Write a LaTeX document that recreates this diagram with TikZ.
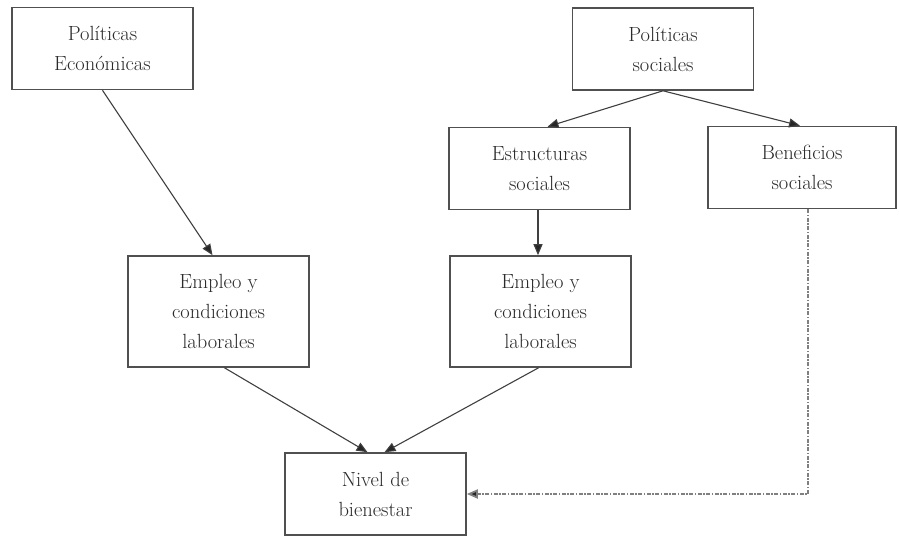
\documentclass[tikz,border=0pt]{standalone}
\usepackage{amsmath,amssymb}
\usepackage{tikz}
\usetikzlibrary{arrows.meta}

\definecolor{borde}{HTML}{505050}
\definecolor{texto}{HTML}{2A2A2A}

\begin{document}
\begin{tikzpicture}[x=1pt,y=-1pt,
    caja/.style={rectangle, draw=borde, line width=1.6pt, fill=white,
      text=texto, align=center, minimum width=181pt, minimum height=82pt,
      inner sep=0pt, font=\fontsize{20.5}{30}\selectfont},
    flecha/.style={draw=black!75, line width=1.1pt,
      -{Triangle[length=11pt,width=9pt,fill=black!85]}},
    punteada/.style={flecha, draw=black!50, line width=1.8pt,
      dash pattern=on 4pt off 1.5pt on 1.5pt off 1.5pt}]
  \useasboundingbox (0,0) rectangle (899,537);
  \node [caja] (polecon) at (102.5,48.5) {Políticas\\Económicas};
  \node [caja] (polsoc) at (663,49) {Políticas\\sociales};
  \node [caja] (estruct) at (539.5,168.5) {Estructuras\\sociales};
  \node [caja, minimum width=188pt] (benef) at (802,167.5) {Beneficios\\sociales};
  \node [caja, minimum height=111pt] (empleoA) at (218.5,311.5)
    {Empleo y\\condiciones\\laborales};
  \node [caja, minimum height=111pt] (empleoB) at (540.5,311.5)
    {Empleo y\\condiciones\\laborales};
  \node [caja] (nivel) at (375.5,494) {Nivel de\\bienestar};
  % flechas
  \draw [flecha] (polecon.south) -- ([xshift=-6pt]empleoA.north);
  \draw [flecha] (polsoc.south) -- ([xshift=8pt]estruct.north);
  \draw [flecha] (polsoc.south) -- ([xshift=-2pt]benef.north);
  \draw [flecha] ([xshift=-1.5pt]estruct.south) -- ([xshift=-2.5pt]empleoB.north);
  \draw [flecha] ([xshift=6pt]empleoA.south) -- ([xshift=-8pt]nivel.north);
  \draw [flecha] ([xshift=-2pt]empleoB.south) -- ([xshift=9pt]nivel.north);
  \draw [punteada] ([xshift=6pt]benef.south) |- (nivel.east);
\end{tikzpicture}
\end{document}
